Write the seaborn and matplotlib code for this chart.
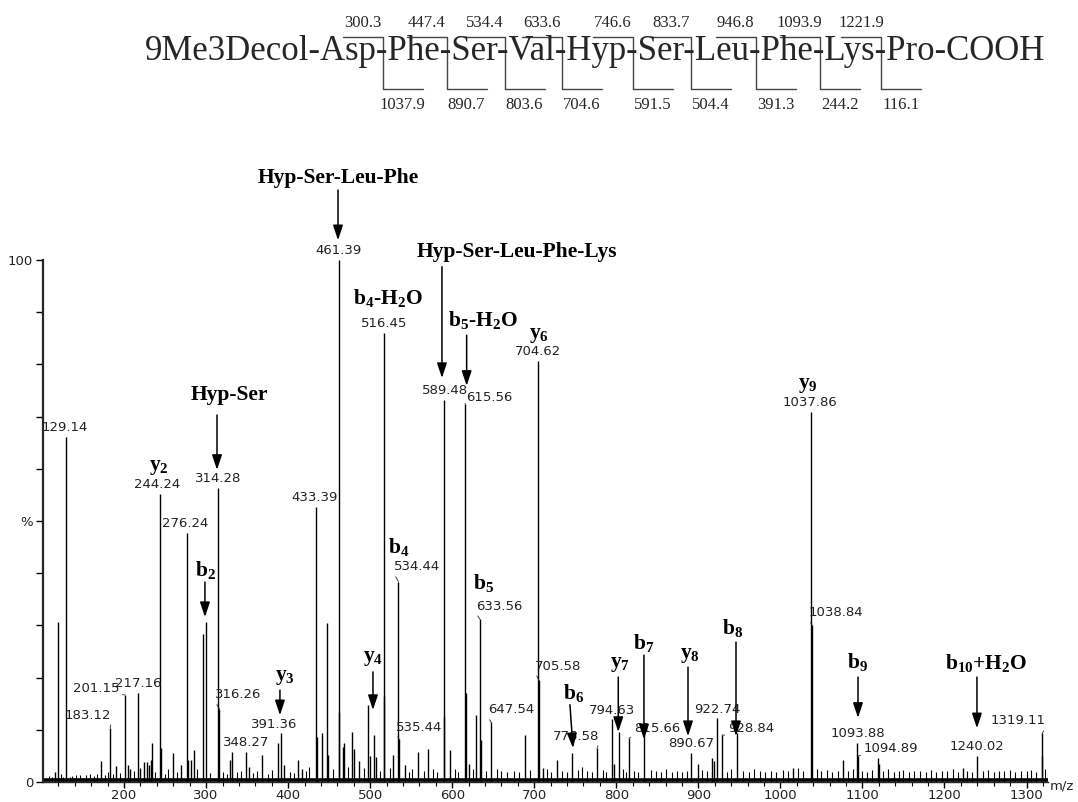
import matplotlib
matplotlib.use("Agg")
import matplotlib.pyplot as plt
from matplotlib.lines import Line2D
from matplotlib.ticker import MultipleLocator
from matplotlib.font_manager import FontProperties
import seaborn as sns

# --- labelled peaks (m/z, relative intensity %) ---
peak_mz = [129.14, 183.12, 201.15, 217.16, 244.24, 276.24, 314.28, 316.26, 348.27,
           391.36, 433.39, 461.39, 516.45, 534.44, 535.44, 589.48, 615.56, 633.56,
           647.54, 704.62, 705.58, 776.58, 794.63, 815.66, 890.67, 922.74, 928.84,
           1037.86, 1038.84, 1093.88, 1094.89, 1240.02, 1319.11]
peak_int = [66.1, 10.4, 16.7, 17.1, 55.2, 47.7, 56.3, 14.0, 5.8,
            9.3, 52.7, 100.0, 86.0, 38.4, 8.2, 73.2, 72.5, 31.2,
            11.4, 80.7, 19.5, 6.5, 12.0, 8.4, 5.6, 12.2, 9.0,
            70.9, 30.0, 7.5, 5.0, 5.0, 9.3]

# --- other visible (unlabelled) peaks ---
minor_mz = [115.8, 119.1, 171.9, 190.2, 205.1, 207.2, 219.4, 224.3, 227.6, 230.4,
            232.8, 234.4, 245.3, 260.0, 269.0, 278.0, 281.2, 285.2, 296.2, 300.3,
            329.1, 331.2, 352.3, 367.7, 388.0, 395.3, 412.0, 416.5, 435.0, 441.6,
            447.4, 449.0, 462.4, 466.5, 468.4, 478.2, 480.6, 486.7, 497.7, 499.8,
            504.4, 507.0, 517.4, 528.2, 542.4, 558.6, 570.8, 590.5, 597.3, 616.6,
            620.8, 629.0, 634.6, 688.7, 711.0, 728.0, 746.6, 797.0, 803.6, 833.7,
            899.9, 916.3, 919.0, 946.8, 1015.0, 1076.0, 1118.5, 1120.0, 1222.0, 1318.5]
minor_int = [2.0, 30.7, 4.0, 3.0, 3.3, 2.5, 2.6, 3.9, 3.8, 3.3,
             4.3, 7.4, 6.5, 5.5, 3.3, 4.3, 4.3, 6.1, 28.4, 30.7,
             4.3, 5.8, 2.8, 5.2, 7.5, 3.3, 4.3, 2.5, 8.7, 9.3,
             30.4, 5.1, 13.5, 6.8, 7.4, 9.6, 6.3, 4.0, 14.8, 5.0,
             9.0, 4.7, 16.5, 5.2, 3.3, 5.8, 6.4, 12.4, 6.1, 17.1,
             3.4, 12.8, 8.0, 9.0, 2.7, 4.3, 5.6, 3.4, 9.6, 9.3,
             3.4, 4.6, 4.0, 9.3, 2.7, 4.2, 4.6, 3.5, 2.6, 5.0]

# --- baseline noise (estimated) ---
noise_mz = [108, 112, 123, 126, 134, 137, 142, 146, 150, 154, 158, 163, 167, 177, 180,
            186, 195, 212, 238, 250, 254, 265, 289, 305, 320, 325, 338, 343, 357, 362,
            375, 380, 402, 407, 422, 426, 455, 473, 492, 512, 524, 547, 551, 565, 577,
            582, 603, 607, 625, 641, 655, 660, 667, 675, 681, 695, 716, 721, 734, 740,
            753, 758, 764, 770, 784, 788, 808, 812, 822, 827, 842, 848, 855, 861, 868,
            874, 880, 886, 905, 910, 935, 940, 955, 962, 968, 975, 981, 988, 995, 1003,
            1009, 1021, 1028, 1045, 1050, 1057, 1063, 1070, 1083, 1088, 1100, 1106, 1112,
            1125, 1131, 1138, 1144, 1150, 1157, 1163, 1170, 1177, 1184, 1190, 1197, 1203,
            1210, 1216, 1228, 1233, 1247, 1253, 1260, 1266, 1273, 1280, 1286, 1293, 1300,
            1306, 1312, 1323, 1326]
noise_int = [1.2, 0.9, 1.5, 1.0, 1.0, 1.1, 1.3, 1.4, 0.8, 1.3, 1.5, 1.2, 1.6, 1.3, 2.0,
             1.5, 1.8, 2.2, 1.9, 1.5, 2.4, 2.0, 2.5, 1.8, 2.0, 1.5, 1.9, 2.2, 1.7, 2.1,
             1.6, 2.3, 2.0, 1.8, 2.2, 2.8, 2.4, 2.9, 2.6, 2.1, 2.7, 2.0, 2.5, 2.2, 2.4,
             2.0, 2.4, 2.0, 2.5, 2.2, 2.5, 2.2, 1.9, 2.1, 2.0, 2.3, 2.4, 2.0, 2.2, 1.9,
             2.3, 2.9, 2.1, 2.0, 2.3, 1.9, 2.4, 2.0, 2.2, 1.9, 2.3, 2.1, 2.0, 2.4, 1.9,
             2.2, 2.0, 2.1, 2.3, 2.1, 2.0, 2.4, 2.2, 2.0, 2.5, 2.1, 1.9, 2.2, 2.0, 2.3,
             2.1, 2.6, 2.2, 2.4, 2.1, 2.3, 2.0, 2.2, 2.1, 2.4, 2.2, 2.0, 2.3,
             2.1, 2.4, 2.0, 2.2, 2.3, 2.0, 2.1, 2.2, 1.9, 2.3, 2.0, 2.2, 2.1,
             2.4, 2.0, 2.2, 1.9, 2.1, 2.3, 2.0, 2.2, 2.1, 2.3, 2.0, 2.2, 2.1,
             2.3, 2.0, 2.5, 1.8]

# --- peptide sequence and fragment ions ---
residues = ["Asp", "Phe", "Ser", "Val", "Hyp", "Ser", "Leu", "Phe", "Lys", "Pro"]
b_ions = [300.3, 447.4, 534.4, 633.6, 746.6, 833.7, 946.8, 1093.9, 1221.9]
y_ions = [1037.9, 890.7, 803.6, 704.6, 591.5, 504.4, 391.3, 244.2, 116.1]

# fragment assignments
frag_labels = ["Hyp-Ser-Leu-Phe", "Hyp-Ser-Leu-Phe-Lys", "b$_4$-H$_2$O", "b$_5$-H$_2$O",
               "y$_6$", "Hyp-Ser", "y$_2$", "b$_2$", "y$_3$", "b$_4$", "b$_5$", "y$_4$",
               "b$_6$", "y$_7$", "b$_7$", "y$_8$", "b$_8$", "y$_9$", "b$_9$",
               "b$_{10}$+H$_2$O"]

sns.set_style("ticks")
plt.rcParams["font.family"] = ["DejaVu Sans"]
plt.rcParams["mathtext.default"] = "regular"

W, H = 1078, 802
fig = plt.figure(figsize=(W / 100, H / 100), dpi=100)
ax = fig.add_axes([43 / W, 20 / H, 1005 / W, 522 / H])

ax.vlines(noise_mz, 0, noise_int, color="black", lw=0.8)
ax.vlines(minor_mz, 0, minor_int, color="black", lw=1.0)
ax.vlines(peak_mz, 0, peak_int, color="black", lw=1.0)
ax.axhline(0.4, color="black", lw=2.6, zorder=1)

ax.set_xlim(101.2, 1326.2)
ax.set_ylim(0, 100)
sns.despine(ax=ax)
ax.spines["left"].set_linewidth(1.6)
ax.spines["bottom"].set_linewidth(1.0)

ax.set_xticks(range(200, 1301, 100))
ax.xaxis.set_minor_locator(MultipleLocator(20))
ax.set_yticks(range(0, 101, 10))
ax.set_yticklabels(["0", "", "", "", "", "%", "", "", "", "", "100"])
ax.tick_params(axis="both", which="major", length=5, width=1, color="black",
               labelsize=9.5, labelcolor="#222222", pad=2)
ax.tick_params(axis="x", which="major", length=4, pad=1)
ax.tick_params(axis="x", which="minor", length=3, width=0.8, color="black")
fig.text(1062 / W, 1 - 786 / H, "m/z", ha="center", va="center", fontsize=9.5, color="#222222")

# peak value labels
lbl_kw = dict(fontsize=9.5, color="#222222", annotation_clip=False)
centered = {129.14: -1, 244.24: -2, 276.24: -1, 314.28: 0, 433.39: -1, 461.39: 0,
            516.45: 0, 589.48: 1, 704.62: 0, 1037.86: -1, 217.16: 0, 348.27: 0,
            391.36: -5, 794.63: 0, 890.67: 0, 922.74: 0, 1093.88: 0, 1240.02: 0}
for mz, h in zip(peak_mz, peak_int):
    if mz in centered:
        ax.annotate(f"{mz:.2f}", (mz, h), xytext=(centered[mz], 2), textcoords="offset points",
                    ha="center", va="bottom", **lbl_kw)

# labels with leader lines: text centre (m/z, %), leader attach side on text
leader = {183.12: (156.0, 12.8, 1), 201.15: (165.8, 18.0, 1), 316.26: (338.9, 16.7, 0),
          534.44: (557.0, 41.2, 0), 535.44: (559.5, 10.5, 0), 615.56: (644.8, 73.6, 0),
          633.56: (657.0, 33.7, 0), 647.54: (671.6, 13.8, 0), 705.58: (729.5, 22.2, 0),
          776.58: (750.9, 8.8, 1), 815.66: (849.6, 10.2, 0), 928.84: (964.2, 10.2, 0),
          1038.84: (1067.8, 32.4, 0), 1094.89: (1134.8, 6.5, 0), 1319.11: (1289.6, 11.7, 1)}
for mz, h in zip(peak_mz, peak_int):
    if mz in leader:
        tx, ty, side = leader[mz]
        ax.annotate(f"{mz:.2f}", (mz, h), xytext=(tx, ty), ha="center", va="center",
                    arrowprops=dict(arrowstyle="-", lw=0.6, color="#222222", shrinkA=0,
                                    shrinkB=0, relpos=(side, 0)), **lbl_kw)

# fragment annotation layout: text centre, arrow (x0, y0, x1, y1)
frag_pos = [(460.8, 115.7), (679.0, 101.5), (521.7, 92.7), (637.5, 88.5), (705.7, 85.6),
            (327.9, 74.1), (242.5, 60.3), (299.8, 40.6), (396.1, 20.1), (535.0, 45.0),
            (638.7, 38.1), (503.4, 23.8), (748.4, 17.0), (804.5, 22.6), (833.7, 26.6),
            (889.8, 24.3), (942.2, 29.5), (1033.6, 76.1), (1094.6, 23.0), (1250.6, 22.8)]
frag_arrow = [(460.8, 113.4, 460.8, 103.8), (587.5, 98.7, 587.5, 77.4), None,
              (617.6, 85.6, 617.6, 75.9), None, (313.3, 70.3, 313.3, 59.8), None,
              (298.6, 38.3, 298.6, 31.6), (390.0, 17.6, 390.0, 12.8), None, None,
              (503.4, 21.1, 503.4, 13.8), (743.5, 14.8, 747.2, 6.5),
              (802.4, 20.1, 802.4, 9.6), (833.7, 24.3, 833.7, 8.2),
              (887.4, 22.0, 887.4, 8.8), (945.9, 26.8, 945.9, 8.8), None,
              (1094.6, 20.1, 1094.6, 12.3), (1239.6, 20.1, 1239.6, 10.3)]
bold_kw = dict(family="Liberation Serif", weight="bold", fontsize=15.5, color="black")
for txt, (fx, fy), arr in zip(frag_labels, frag_pos, frag_arrow):
    ax.text(fx, fy, txt, ha="center", va="center", clip_on=False, **bold_kw)
    if arr is not None:
        ax.annotate("", xy=(arr[2], arr[3]), xytext=(arr[0], arr[1]), annotation_clip=False,
                    arrowprops=dict(arrowstyle="-|>,head_length=0.9,head_width=0.3",
                                    color="black", lw=1.1, shrinkA=0, shrinkB=0))

# --- sequence with fragmentation brackets ---
seq = "9Me3Decol-" + "-".join(residues) + "-COOH"
seq_size = 25
seq_left, seq_base = 145, 60
fig.text(seq_left / W, 1 - seq_base / H, seq, ha="left", va="baseline",
         family="Liberation Serif", fontsize=seq_size)

renderer = fig.canvas.get_renderer()
fp = FontProperties(family="Liberation Serif", size=seq_size)


def text_w(s):
    w, _, _ = renderer.get_text_width_height_descent(s, fp, ismath=False)
    return w


dash_w = text_w("-")
num_kw = dict(family="Liberation Serif", fontsize=12, ha="center", va="center")
for i in range(len(b_ions)):
    prefix = "9Me3Decol-" + "-".join(residues[:i + 1])
    xd = seq_left + text_w(prefix) + dash_w / 2
    xs = [xd - 40, xd, xd, xd + 40]
    ys = [37, 37, 89, 89]
    fig.add_artist(Line2D([x / W for x in xs], [1 - y / H for y in ys],
                          color="#444444", lw=1.0))
    fig.text((xd - 20) / W, 1 - 23 / H, f"{b_ions[i]:.1f}", **num_kw)
    fig.text((xd + 20) / W, 1 - 105 / H, f"{y_ions[i]:.1f}", **num_kw)

fig.savefig("out.png", dpi=100)
